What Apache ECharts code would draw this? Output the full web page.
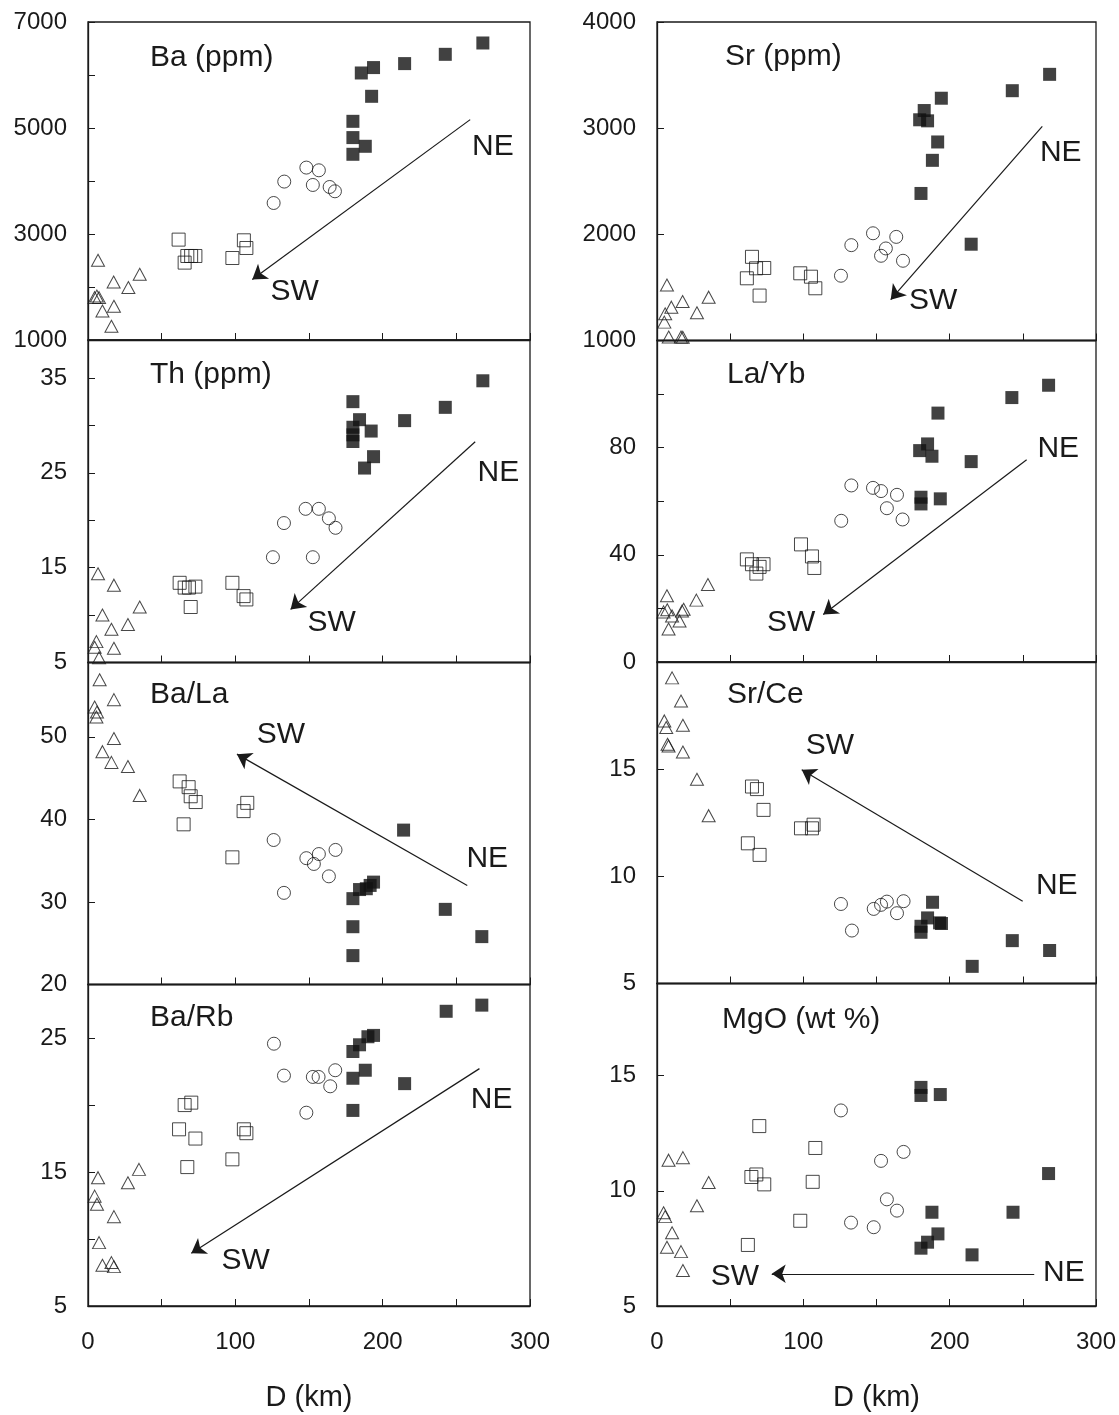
<!DOCTYPE html>
<html><head><meta charset="utf-8">
<script src="https://cdn.jsdelivr.net/npm/echarts@6/dist/echarts.min.js"></script>
<style>html,body{margin:0;padding:0;background:#fff}#c{width:1119px;height:1415px}</style>
</head><body><div id="c"></div>
<script>
// ---- data: [D (km), value] ----
// Ba (ppm)
const baTri = [[6.8,2504],[17.4,2094],[35.1,2240],[27.4,1989],[4.5,1800],[6,1830],[7.5,1800],[17.6,1636],[9.8,1547],[15.9,1258]];
const baSq = [[61.5,2894],[65.6,2460],[67.4,2585],[70,2585],[72.9,2585],[105.8,2881],[107.5,2736],[98,2547]];
const baCirc = [[148.2,4253],[156.7,4202],[133.2,3989],[152.6,3925],[164,3887],[167.6,3806],[126,3585]];
const baFill = [[268,6604],[242.5,6390],[214.9,6215],[193.8,6140],[185.5,6038],[192.5,5598],[179.8,5126],[179.8,4819],[188.2,4655],[179.8,4504]];
// Sr (ppm)
const srTri = [[6.8,1523],[17.5,1367],[35.3,1408],[9.8,1314],[27.3,1261],[5.6,1251],[5,1173],[8,1033],[16.4,1033],[17.6,1030]];
const srSq = [[64.9,1788],[67.7,1680],[73.3,1683],[61.4,1586],[97.9,1633],[105.2,1601],[108.2,1492],[70.1,1423]];
const srCirc = [[147.6,2010],[163.5,1976],[132.8,1898],[156.4,1867],[153.1,1798],[168.1,1751],[125.7,1610]];
const srFill = [[268.3,3507],[242.8,3353],[194.3,3282],[182.6,3166],[179.5,3079],[184.9,3069],[191.8,2870],[188.2,2697],[180.4,2385],[214.7,1907]];
// Th (ppm)
const thTri = [[6.8,14.35],[17.6,13.15],[35.1,10.85],[9.8,10.0],[27.1,9.0],[15.9,8.5],[5.7,7.2],[4.5,6.6],[17.6,6.5],[7.5,5.5]];
const thSq = [[62.2,13.4],[65.6,12.9],[68.5,12.9],[72.9,13.0],[98,13.4],[105.6,12.0],[107.5,11.65],[69.7,10.85]];
const thCirc = [[147.7,21.2],[156.7,21.2],[163.5,20.2],[168,19.2],[133,19.7],[125.5,16.1],[152.6,16.1]];
const thFill = [[268,34.7],[242.5,31.9],[214.9,30.5],[179.8,32.5],[184.3,30.6],[179.8,29.8],[179.8,29.0],[179.8,28.3],[192.2,29.4],[193.8,26.7],[187.7,25.5]];
// La/Yb
const lyTri = [[6.8,24.7],[34.8,28.9],[26.9,23.1],[18.2,19.7],[17.1,19.0],[4.5,18.7],[7,19.5],[10.3,17.2],[15.4,15.3],[7.9,12.3]];
const lySq = [[98.4,43.9],[105.9,39.4],[107.5,35.1],[61.4,38.3],[64.9,36.5],[72.8,36.5],[70.1,35.5],[67.9,33.0]];
const lyCirc = [[132.8,65.9],[147.6,65.0],[153.1,63.8],[164,62.4],[157.1,57.4],[167.8,53.2],[125.9,52.7]];
const lyFill = [[267.6,103.3],[242.5,98.7],[192,92.9],[184.9,81.4],[179.5,78.9],[187.9,76.8],[214.7,74.8],[180.4,61.5],[180.4,59.0],[193.6,60.9]];
// Ba/La
const blTri = [[7.9,56.9],[17.6,54.5],[4.5,53.6],[6.1,53.0],[5.7,52.4],[17.6,49.8],[9.8,48.2],[15.9,46.9],[27.1,46.4],[35.1,42.9]];
const blSq = [[62.2,44.6],[68.3,43.9],[69.7,42.8],[73.1,42.1],[108.1,42.0],[105.6,41.0],[64.9,39.4],[98,35.4]];
const blCirc = [[126,37.5],[168,36.3],[156.7,35.8],[148.2,35.3],[153.3,34.6],[163.5,33.1],[133,31.1]];
const blFill = [[214.2,38.7],[242.5,29.1],[267.3,25.8],[193.8,32.4],[191.5,32.0],[188.9,31.6],[184.3,31.5],[179.8,30.4],[179.8,27.0],[179.8,23.5]];
// Sr/Ce
const scTri = [[10.3,19.26],[16.4,18.18],[5,17.25],[17.7,17.05],[6.3,16.94],[7.2,16.16],[7.9,16.08],[17.7,15.8],[27.3,14.53],[35.3,12.83]];
const scSq = [[64.9,14.19],[68.3,14.07],[72.8,13.1],[107,12.41],[98.4,12.24],[105.9,12.24],[62.1,11.54],[70.1,11.0]];
const scCirc = [[125.7,8.71],[168.5,8.84],[157.1,8.82],[153.1,8.67],[148.1,8.48],[164,8.28],[133.2,7.47]];
const scFill = [[188.3,8.79],[184.9,8.06],[193.1,7.83],[194.4,7.8],[180.4,7.67],[180.4,7.39],[242.8,7.0],[268.3,6.54],[215.4,5.8]];
// Ba/Rb
const brTri = [[34.6,15.2],[6.8,14.58],[27.1,14.2],[4.5,13.2],[6.1,12.6],[17.6,11.67],[7.5,9.73],[15.9,8.24],[9.8,8.04],[17.6,7.94]];
const brSq = [[65.6,20.0],[70.1,20.18],[61.8,18.19],[72.9,17.5],[105.8,18.19],[107.5,17.9],[98,15.95],[67.4,15.37]];
const brCirc = [[126.2,24.58],[133,22.2],[152.6,22.1],[156.5,22.1],[167.8,22.6],[164.4,21.4],[148.2,19.43]];
const brFill = [[267.3,27.46],[243.1,27.0],[193.8,25.2],[190,25.1],[184.3,24.5],[179.8,24.0],[188.2,22.6],[179.8,22.0],[214.9,21.6],[179.8,19.6]];
// MgO (wt %)
const mgTri = [[7.9,11.33],[17.7,11.44],[35.3,10.36],[27.3,9.35],[4.5,9.05],[5.6,8.88],[10.3,8.18],[6.8,7.55],[16.4,7.36],[17.7,6.54]];
const mgSq = [[69.9,12.81],[108.2,11.86],[64.5,10.6],[67.9,10.71],[73.3,10.28],[106.4,10.39],[97.9,8.7],[62.1,7.65]];
const mgCirc = [[125.7,13.49],[168.5,11.69],[153.1,11.3],[157.1,9.63],[164,9.14],[132.6,8.62],[148.1,8.42]];
const mgFill = [[180.4,14.49],[180.4,14.14],[193.6,14.18],[267.6,10.75],[187.9,9.07],[243.3,9.07],[192,8.13],[184.9,7.77],[180.4,7.51],[215.3,7.22]];

// tick labels
const xTickLabels = [0, 100, 200, 300];
const baTicks = [1000, 3000, 5000, 7000];
const srTicks = [1000, 2000, 3000, 4000];
const thTicks = [5, 15, 25, 35];
const lyTicks = [0, 40, 80];
const blTicks = [20, 30, 40, 50];
const scTicks = [5, 10, 15];
const brTicks = [5, 15, 25];
const mgTicks = [5, 10, 15];

// trend arrows [from, to] and direction labels (data coordinates)
const baArrow = [[259.4,5158],[111.5,2140]], baNE = [274.8,4641], baSW = [140.2,1905];
const srArrow = [[263.3,3016],[159.7,1385]], srNE = [275.9,2767], srSW = [188.8,1376];
const thArrow = [[262.8,28.28],[137.5,10.6]], thNE = [278.5,24.96], thSW = [165.4,9.2];
const lyArrow = [[252.6,75.5],[113.6,17.7]], lyNE = [274.2,79.5], lySW = [91.6,14.8];
const blArrow = [[257.4,32.0],[101.1,47.9]], blNE = [271,35.26], blSW = [131,50.2];
const scArrow = [[249.9,8.84],[98.9,14.97]], scNE = [273.2,9.57], scSW = [118.2,16.08];
const brArrow = [[265.7,22.72],[70.1,8.93]], brNE = [274,20.43], brSW = [107,8.41];
const mgArrow = [[257.8,6.4],[78.4,6.4]], mgNE = [278.1,6.43], mgSW = [53.3,6.28];

const FONT = "'Liberation Sans', Arial, Helvetica, sans-serif";
const INK = '#1a1a1a';

const panels = [
  {title:'Ba (ppm)', tx:150, ty:58, grid:{left:88, top:22, width:442, height:318}, y:[1000,7000,1000], ticks:baTicks, d:[baTri,baSq,baCirc,baFill], arrow:baArrow, ne:baNE, sw:baSW, bottom:false},
  {title:'Sr (ppm)', tx:725, ty:57, grid:{left:657, top:22, width:439, height:318.5}, y:[1000,4000,1000], ticks:srTicks, d:[srTri,srSq,srCirc,srFill], arrow:srArrow, ne:srNE, sw:srSW, bottom:false},
  {title:'Th (ppm)', tx:150, ty:375, grid:{left:88, top:340, width:442, height:322.5}, y:[5,39,5], ticks:thTicks, d:[thTri,thSq,thCirc,thFill], arrow:thArrow, ne:thNE, sw:thSW, bottom:false},
  {title:'La/Yb', tx:727, ty:375, grid:{left:657, top:340.5, width:439, height:321.5}, y:[0,120,20], ticks:lyTicks, d:[lyTri,lySq,lyCirc,lyFill], arrow:lyArrow, ne:lyNE, sw:lySW, bottom:false},
  {title:'Ba/La', tx:150, ty:695, grid:{left:88, top:662.5, width:442, height:322}, y:[20,59,10], ticks:blTicks, d:[blTri,blSq,blCirc,blFill], arrow:blArrow, ne:blNE, sw:blSW, bottom:false},
  {title:'Sr/Ce', tx:727, ty:695, grid:{left:657, top:662, width:439, height:321.5}, y:[5,20,5], ticks:scTicks, d:[scTri,scSq,scCirc,scFill], arrow:scArrow, ne:scNE, sw:scSW, bottom:false},
  {title:'Ba/Rb', tx:150, ty:1018, grid:{left:88, top:984.5, width:442, height:321.5}, y:[5,29,5], ticks:brTicks, d:[brTri,brSq,brCirc,brFill], arrow:brArrow, ne:brNE, sw:brSW, bottom:true},
  {title:'MgO (wt %)', tx:722, ty:1020, grid:{left:657, top:983.5, width:439, height:322.5}, y:[5,19,5], ticks:mgTicks, d:[mgTri,mgSq,mgCirc,mgFill], arrow:mgArrow, ne:mgNE, sw:mgSW, bottom:true}
];

const markerStyles = [
  {symbol:'triangle', symbolSize:[13,12], itemStyle:{color:'rgba(0,0,0,0)', borderColor:INK, borderWidth:1}},
  {symbol:'rect', symbolSize:13, itemStyle:{color:'rgba(0,0,0,0)', borderColor:INK, borderWidth:1}},
  {symbol:'circle', symbolSize:13, itemStyle:{color:'rgba(0,0,0,0)', borderColor:INK, borderWidth:1}},
  {symbol:'rect', symbolSize:13, itemStyle:{color:'#111', borderColor:'#111', borderWidth:0}}
];

const grids = [], xAxes = [], yAxes = [], series = [], graphics = [];
panels.forEach((p, i) => {
  grids.push(Object.assign({show:true, borderColor:INK, borderWidth:1.3, backgroundColor:'rgba(0,0,0,0)', containLabel:false}, p.grid));
  xAxes.push({
    type:'value', gridIndex:i, min:0, max:300, interval:50,
    axisLine:{show:true, lineStyle:{color:INK, width:1.3}},
    axisTick:{show:true, inside:true, length:7, lineStyle:{color:INK, width:1}},
    splitLine:{show:false},
    axisLabel:{show:p.bottom, margin:24, fontSize:24, fontFamily:FONT, color:INK,
      formatter:v => xTickLabels.indexOf(v) >= 0 ? String(v) : ''},
    name: p.bottom ? 'D (km)' : '', nameLocation:'middle', nameGap:77,
    nameTextStyle:{fontSize:29, fontFamily:FONT, color:INK}
  });
  const tk = p.ticks;
  yAxes.push({
    type:'value', gridIndex:i, min:p.y[0], max:p.y[1], interval:p.y[2],
    axisLine:{show:true, lineStyle:{color:INK, width:1.3}},
    axisTick:{show:true, inside:true, length:7, lineStyle:{color:INK, width:1}},
    splitLine:{show:false},
    axisLabel:{show:true, margin:21, fontSize:24, fontFamily:FONT, color:INK,
      showMinLabel:true, showMaxLabel:true,
      formatter:v => tk.indexOf(v) >= 0 ? String(v) : ''}
  });
  p.d.forEach((arr, k) => {
    series.push(Object.assign({type:'scatter', xAxisIndex:i, yAxisIndex:i, data:arr, silent:true, z:2+k}, markerStyles[k]));
  });
  series.push({
    type:'scatter', xAxisIndex:i, yAxisIndex:i, data:[], silent:true,
    markLine:{silent:true, symbol:['none','arrow'], symbolSize:14, precision:3,
      lineStyle:{color:INK, width:1.2, type:'solid'}, label:{show:false}, emphasis:{disabled:true},
      data:[[{coord:p.arrow[0]}, {coord:p.arrow[1]}]]},
    markPoint:{silent:true, symbol:'circle', symbolSize:1, itemStyle:{color:'rgba(0,0,0,0)'},
      label:{show:true, position:'inside', formatter:'{b}', fontSize:30, fontFamily:FONT, color:INK},
      data:[{name:'NE', coord:p.ne}, {name:'SW', coord:p.sw}]}
  });
  graphics.push({type:'text', x:p.tx, y:p.ty, silent:true,
    style:{text:p.title, font:'30px ' + FONT, fill:INK, textVerticalAlign:'middle', verticalAlign:'middle', textAlign:'left'}});
});

const chart = echarts.init(document.getElementById('c'), null, {renderer:'canvas', width:1119, height:1415});
chart.setOption({
  backgroundColor:'#fff', animation:false,
  grid:grids, xAxis:xAxes, yAxis:yAxes, series:series, graphic:graphics
});
</script>
</body></html>
